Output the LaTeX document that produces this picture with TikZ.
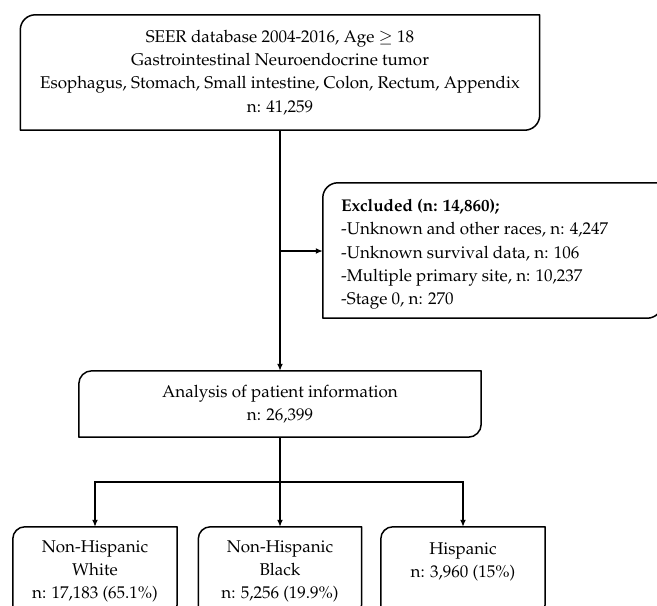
\documentclass[tikz,border=0pt]{standalone}
\usepackage[T1]{fontenc}
\usepackage{mathpazo}
\usetikzlibrary{arrows.meta}
\newcommand\diagoutline[2]{%
  \draw[boxline] ([yshift=-#2]#1.north west) arc[start angle=180,end angle=90,radius=#2]
    -- (#1.north east) -- ([yshift=#2]#1.south east)
    arc[start angle=0,end angle=-90,radius=#2] -- (#1.south west) -- cycle;}
\tikzset{
  boxline/.style={line width=1.5pt, line join=round},
  txt/.style={draw=none, inner sep=0pt, align=center, font=\fontsize{17}{23.3}\selectfont},
  conn/.style={line width=1.5pt, -{Latex[length=7pt,width=6pt]}},
  plainline/.style={line width=1.5pt}
}
\begin{document}
\begin{tikzpicture}[x=1pt,y=1pt]
\useasboundingbox (0,0) rectangle (657,-606);
\clip (0,0) rectangle (657,-606);
\node[txt, minimum width=519pt, minimum height=115pt] (top) at (280,-72.5)
  {SEER database 2004-2016, Age $\geq$ 18\\Gastrointestinal Neuroendocrine tumor\\Esophagus, Stomach, Small intestine, Colon, Rectum, Appendix\\n: 41,259};
\diagoutline{top}{15pt}
\node[txt, minimum width=339pt, minimum height=135pt] (excl) at (492.5,-250.5) {};
\diagoutline{excl}{15pt}
\node[txt, align=left, anchor=west] (excltext) at (341,-254.5)
  {\textbf{Excluded (n: 14,860);}\\-Unknown and other races, n: 4,247\\-Unknown survival data, n: 106\\-Multiple primary site, n: 10,237\\-Stage 0, n: 270};
\node[txt, minimum width=402pt, minimum height=66pt] (ana) at (280,-404)
  {Analysis of patient information\\n: 26,399};
\diagoutline{ana}{13pt}
\node[txt, minimum width=164pt, minimum height=89pt] (b1) at (95,-571.5)
  {Non-Hispanic\\White\\n: 17,183 (65.1\%)};
\diagoutline{b1}{12pt}
\node[txt, minimum width=163pt, minimum height=89pt] (b2) at (280,-571.5)
  {Non-Hispanic\\Black\\n: 5,256 (19.9\%)};
\diagoutline{b2}{12pt}
\node[txt, minimum width=164pt, minimum height=89pt] (b3) at (463,-571.5)
  {Hispanic\\n: 3,960 (15\%)\\\mbox{}};
\diagoutline{b3}{12pt}
\coordinate (j) at (280,-251);
\coordinate (split) at (280,-482);
\draw[conn] (top.south) -- (ana.north);
\draw[conn] (j) -- (j -| excl.west);
\draw[plainline] (ana.south) -- (split);
\draw[conn] (split) -| (b1.north);
\draw[conn] (split) -- (b2.north);
\draw[conn] (split) -| (b3.north);
\end{tikzpicture}
\end{document}
